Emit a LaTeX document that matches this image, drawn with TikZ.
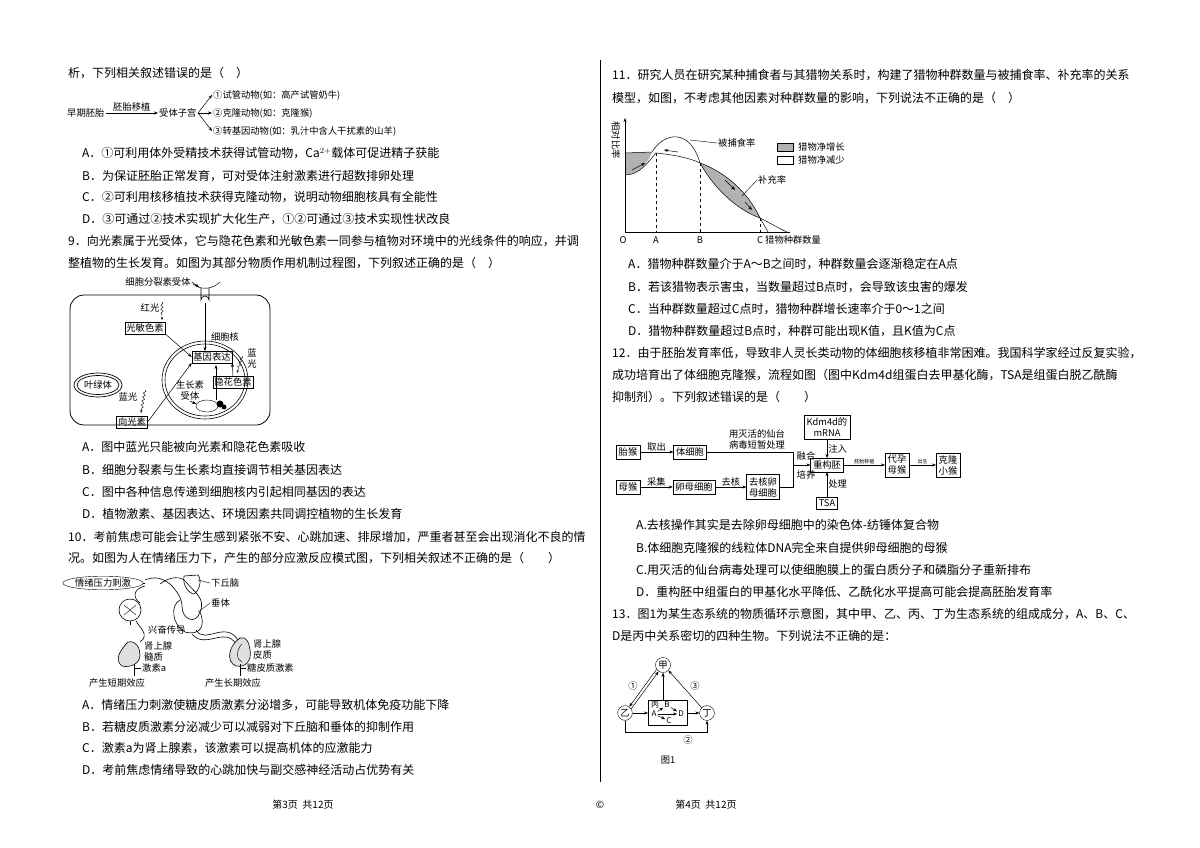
\documentclass[tikz,border=0pt]{standalone}
\usepackage{fontspec}
\setmainfont{Noto Sans CJK SC}
\usetikzlibrary{arrows.meta,decorations.pathmorphing,shapes.geometric,calc}
\begin{document}
\begin{tikzpicture}[x=1pt,y=-1pt,font=\fontsize{12}{14}\selectfont,
 tx/.style={anchor=west,inner sep=0pt},
 sm/.style={font=\fontsize{9.3}{11}\selectfont,inner sep=1pt},
 bx/.style={draw,font=\fontsize{9.3}{11}\selectfont,inner sep=1.5pt},
 fb/.style={draw,font=\fontsize{9.3}{11}\selectfont,inner sep=2.5pt,align=center},
 ar/.style={-{Stealth[length=4pt,width=3pt]},line width=0.5pt},
 wv/.style={decorate,decoration={snake,amplitude=1.2pt,segment length=4pt,post length=4pt},-{Stealth[length=3pt]}}]
\useasboundingbox[fill=white] (0,0) rectangle (1200,847);
% divider
\draw[line width=0.6pt] (600,60) -- (600,782);
% ---------------- left column
\node[tx] at (68,73) {析，下列相关叙述错误的是（\quad ）};
\node[sm,anchor=west] (e1) at (66,113) {早期胚胎};
\node[sm,anchor=west] (e2) at (158,113) {受体子宫};
\draw[ar] (e1.east) -- node[above,sm]{胚胎移植} (e2.west);
\node[sm,anchor=west] (b1) at (212,95) {①试管动物(如：高产试管奶牛)};
\node[sm,anchor=west] (b2) at (212,113) {②克隆动物(如：克隆猴)};
\node[sm,anchor=west] (b3) at (212,131) {③转基因动物(如：乳汁中含人干扰素的山羊)};
\coordinate (bs) at (198,113);
\draw[ar] (bs) -- (b1.west); \draw[ar] (bs) -- (b2.west); \draw[ar] (bs) -- (b3.west);
\node[tx] at (82,153) {A．①可利用体外受精技术获得试管动物，Ca$^{2+}$载体可促进精子获能};
\node[tx] at (82,176) {B．为保证胚胎正常发育，可对受体注射激素进行超数排卵处理};
\node[tx] at (82,197) {C．②可利用核移植技术获得克隆动物，说明动物细胞核具有全能性};
\node[tx] at (82,219) {D．③可通过②技术实现扩大化生产，①②可通过③技术实现性状改良};
\node[tx] at (68,241) {9．向光素属于光受体，它与隐花色素和光敏色素一同参与植物对环境中的光线条件的响应，并调};
\node[tx] at (68,263) {整植物的生长发育。如图为其部分物质作用机制过程图，下列叙述正确的是（\quad ）};
% cell figure
\draw[line width=0.8pt,rounded corners=14pt] (70,295) rectangle (270,425);
\draw[line width=0.6pt] (205,380) ellipse (43 and 39);
\draw[line width=0.6pt] (205,380) ellipse (40 and 36);
\draw[line width=0.6pt] (201,288) -- (201,300) arc (180:360:4) -- (209,288);
\draw[line width=0.5pt] (193,284) .. controls (200,290) and (212,290) .. (220,282);
\node[sm] (rec) at (158,282) {细胞分裂素受体};
\draw[ar] (rec.east) -- (199,287);
\node[sm] (red) at (150,308) {红光};
\node[bx] (pc) at (145,328) {光敏色素};
\draw[wv] (162,302) -- (162,320);
\node[sm] (nuc) at (225,337) {细胞核};
\node[bx] (ge) at (212,357) {基因表达};
\draw[ar] (205,303) -- (ge.north -| 205,0);
\draw[ar] (pc.south east) -- (ge.west);
\node[sm,align=center] (bl1) at (252,358) {蓝\\光};
\node[bx] (cry) at (233,382) {隐花色素};
\draw[wv] (242,356) -- (237,373);
\draw[ar] (cry.north) -- (ge.south east);
\node[sm,align=center] (aux) at (190,390) {生长素\\受体};
\draw (207,406) ellipse (11 and 6);
\fill (220,404) circle (3.5); \fill (224,407) circle (2.5);
\draw[ar] (aux.south) -- (196,404);
\draw[ar] (216,400) -- (216,365);
\draw[line width=0.7pt] (98,385) ellipse (24 and 12);
\draw[line width=0.7pt] (98,385) ellipse (21 and 9.5);
\node[sm] (chl) at (98,385) {叶绿体};
\node[sm] (bl2) at (128,397) {蓝光};
\draw[wv] (145,390) -- (141,413);
\node[bx] (pho) at (132,422) {向光素};
\draw[ar] (pho.east) -- (ge.south west);
\node[tx] at (82,447) {A．图中蓝光只能被向光素和隐花色素吸收};
\node[tx] at (82,470) {B．细胞分裂素与生长素均直接调节相关基因表达};
\node[tx] at (82,492) {C．图中各种信息传递到细胞核内引起相同基因的表达};
\node[tx] at (82,514) {D．植物激素、基因表达、环境因素共同调控植物的生长发育};
\node[tx] at (68,537) {10．考前焦虑可能会让学生感到紧张不安、心跳加速、排尿增加，严重者甚至会出现消化不良的情};
\node[tx] at (68,558) {况。如图为人在情绪压力下，产生的部分应激反应模式图，下列相关叙述不正确的是（\qquad ）};
% stress figure
\node[draw,ellipse,sm,inner sep=0.5pt] (st) at (103,583) {情绪压力刺激};
\draw[line width=0.6pt] (st.east) -- (145,583);
\draw[line width=0.6pt] (145,580) .. controls (155,576) and (162,578) .. (170,584) .. controls (176,590) and (182,598) .. (182,606) .. controls (182,620) and (196,625) .. (200,612) .. controls (206,598) and (194,592) .. (186,582) .. controls (182,576) and (170,576) .. (160,584);
\draw[line width=0.6pt] (184,576) .. controls (182,586) and (190,594) .. (194,594) .. controls (200,590) and (202,580) .. (198,575) -- cycle;
\draw[line width=0.6pt] (180,600) .. controls (170,605) and (172,625) .. (185,632) .. controls (200,636) and (206,626) .. (200,612);
\node[sm,anchor=west] (hyp) at (210,583) {下丘脑};
\draw (hyp.west) -- (198,580);
\node[sm,anchor=west] (pit) at (210,603) {垂体};
\draw (pit.west) -- (198,612);
\draw[line width=0.6pt] (130,610) circle (11);
\draw (124,605) -- (136,615) (124,615) -- (136,605);
\draw (130,621) -- (130,625);
\draw[line width=0.6pt] (145,586) .. controls (130,590) and (135,600) .. (140,603);
\draw[line width=0.6pt] (136,621) .. controls (140,628) and (150,635) .. (140,642);
\node[sm,anchor=west] (exc) at (147,630) {兴奋传导};
\draw[line width=0.6pt,fill=gray!25] (128,642) .. controls (120,650) and (114,660) .. (122,666) .. controls (130,668) and (140,664) .. (140,655) .. controls (140,648) and (136,640) .. (128,642);
\node[sm,anchor=west,align=left] (med) at (143,651) {肾上腺\\髓质};
\draw[line width=0.5pt] (134,664) -- (134,676);
\node[sm,anchor=west] (ha) at (141,668) {激素a};
\draw (ha.west) -- (134,668);
\node[sm] (sh) at (117,683) {产生短期效应};
\draw[line width=0.6pt] (196,630) .. controls (205,645) and (225,620) .. (238,640);
\draw[line width=0.6pt] (192,634) .. controls (205,650) and (225,626) .. (236,644);
\draw[line width=0.6pt,fill=gray!25] (240,638) .. controls (228,646) and (226,662) .. (236,666) .. controls (246,668) and (252,660) .. (250,650) .. controls (249,642) and (246,636) .. (240,638);
\draw (242,644) .. controls (236,650) and (236,660) .. (242,662);
\node[sm,anchor=west,align=left] (cor) at (252,649) {肾上腺\\皮质};
\draw[line width=0.5pt] (240,664) -- (240,676);
\node[sm,anchor=west] (gc) at (246,668) {糖皮质激素};
\draw (gc.west) -- (240,668);
\node[sm] (lo) at (233,683) {产生长期效应};
\node[tx] at (82,705) {A．情绪压力刺激使糖皮质激素分泌增多，可能导致机体免疫功能下降};
\node[tx] at (82,727) {B．若糖皮质激素分泌减少可以减弱对下丘脑和垂体的抑制作用};
\node[tx] at (82,748) {C．激素a为肾上腺素，该激素可以提高机体的应激能力};
\node[tx] at (82,770) {D．考前焦虑情绪导致的心跳加快与副交感神经活动占优势有关};
% ---------------- right column
\node[tx] at (612,75) {11．研究人员在研究某种捕食者与其猎物关系时，构建了猎物种群数量与被捕食率、补充率的关系};
\node[tx] at (612,98) {模型，如图，不考虑其他因素对种群数量的影响，下列说法不正确的是（\quad ）};
% graph
\fill[gray!60] (625,153) -- (652,152) .. controls (648,162) and (640,175) .. (625,175) -- cycle;
\fill[gray!60] (700,163) .. controls (725,172) and (748,192) .. (760,218) .. controls (738,210) and (715,190) .. (700,163);
\draw[line width=0.5pt] (625,153) -- (652,152) .. controls (664,132) and (690,128) .. (700,163) .. controls (715,190) and (738,210) .. (760,218) .. controls (772,224) and (780,229) .. (787,232);
\draw[line width=0.5pt] (625,175) .. controls (640,175) and (648,162) .. (656,153) .. controls (675,155) and (690,158) .. (700,163) .. controls (725,172) and (748,192) .. (760,218) -- (768,232);
\draw[-{Stealth[length=4pt]},line width=0.6pt] (625,232) -- (625,118);
\draw[line width=0.6pt] (625,232) -- (790,232);
\draw[dashed,line width=0.4pt] (656,153) -- (656,232) (700,163) -- (700,232) (760,218) -- (760,232);
\draw[ar] (632,170) -- (645,163);
\draw[ar] (678,152) -- (664,150);
\draw[ar] (725,180) -- (735,190);
\draw[ar] (745,202) -- (752,210);
\node[sm,rotate=-90] (ylab) at (616,140) {相对比率};
\node[sm] (O) at (623,240) {\itshape O};
\node[sm] (A) at (656,240) {A};
\node[sm] (B) at (700,240) {B};
\node[sm,anchor=west] (C) at (756,240) {C 猎物种群数量};
\node[sm,anchor=west] (pr) at (717,143) {被捕食率};
\draw (pr.west) -- (690,140);
\node[sm,anchor=west] (sp) at (757,180) {补充率};
\draw (sp.west) -- (742,196);
\draw[fill=gray!60] (777,143) rectangle (793,151);
\draw (777,156) rectangle (793,164);
\node[sm,anchor=west] (l1) at (797,147) {猎物净增长};
\node[sm,anchor=west] (l2) at (797,160) {猎物净减少};
\node[tx] at (628,264) {A．猎物种群数量介于A～B之间时，种群数量会逐渐稳定在A点};
\node[tx] at (628,287) {B．若该猎物表示害虫，当数量超过B点时，会导致该虫害的爆发};
\node[tx] at (628,309) {C．当种群数量超过C点时，猎物种群增长速率介于0～1之间};
\node[tx] at (628,331) {D．猎物种群数量超过B点时，种群可能出现K值，且K值为C点};
\node[tx] at (612,353) {12．由于胚胎发育率低，导致非人灵长类动物的体细胞核移植非常困难。我国科学家经过反复实验，};
\node[tx] at (612,375) {成功培育出了体细胞克隆猴，流程如图（图中Kdm4d组蛋白去甲基化酶，TSA是组蛋白脱乙酰酶};
\node[tx] at (612,397) {抑制剂）。下列叙述错误的是（\qquad ）};
% flow
\node[fb] (f1) at (628,452) {胎猴};
\node[fb] (f2) at (690,452) {体细胞};
\node[fb] (f3) at (628,487) {母猴};
\node[fb] (f4) at (694,487) {卵母细胞};
\node[fb] (f5) at (763,487) {去核卵\\母细胞};
\node[fb] (f6) at (827,465) {重构胚};
\node[fb] (f7) at (827,427) {Kdm4d的\\mRNA};
\node[fb] (f8) at (827,503) {TSA};
\node[fb] (f9) at (897,465) {代孕\\母猴};
\node[fb] (f10) at (948,465) {克隆\\小猴};
\draw[ar] (f1) -- node[above,sm]{取出} (f2);
\draw[ar] (f3) -- node[above,sm]{采集} (f4);
\draw[ar] (f4) -- node[above,sm]{去核} (f5);
\coordinate (m) at (793,465);
\draw[line width=0.5pt] (f2.east) -- (793,452) -- (m);
\draw[line width=0.5pt] (f5.east) -- (793,487) -- (m);
\draw[ar] (m) -- (f6.west);
\node[sm,align=center] at (757,439) {用灭活的仙台\\病毒短暂处理};
\node[sm] at (806,456) {融合};
\node[sm] at (806,475) {培养};
\draw[ar] (f7) -- node[right,sm]{注入} (f6);
\draw[ar] (f8) -- node[right,sm]{处理} (f6);
\draw[ar] (f6) -- node[above,font=\fontsize{5}{6}\selectfont,inner sep=1pt]{胚胎移植} (f9);
\draw[ar] (f9) -- node[above,font=\fontsize{5}{6}\selectfont,inner sep=1pt]{出生} (f10);
\node[tx] at (636,525) {A.去核操作其实是去除卵母细胞中的染色体-纺锤体复合物};
\node[tx] at (636,548) {B.体细胞克隆猴的线粒体DNA完全来自提供卵母细胞的母猴};
\node[tx] at (636,570) {C.用灭活的仙台病毒处理可以使细胞膜上的蛋白质分子和磷脂分子重新排布};
\node[tx] at (636,592) {D．重构胚中组蛋白的甲基化水平降低、乙酰化水平提高可能会提高胚胎发育率};
\node[tx] at (612,614) {13．图1为某生态系统的物质循环示意图，其中甲、乙、丙、丁为生态系统的组成成分，A、B、C、};
\node[tx] at (612,636) {D是丙中关系密切的四种生物。下列说法不正确的是：};
% fig 13
\node[draw,circle,sm,inner sep=1pt] (jia) at (663,665) {甲};
\node[draw,circle,sm,inner sep=1pt] (yi) at (625,713) {乙};
\node[draw,circle,sm,inner sep=1pt] (ding) at (707,713) {丁};
\draw[line width=0.5pt] (648,700) rectangle (687,725);
\node[sm,font=\fontsize{8}{9}\selectfont] at (655,705) {丙};
\node[sm,font=\fontsize{8}{9}\selectfont] (nA) at (654,714) {A};
\node[sm,font=\fontsize{8}{9}\selectfont] (nB) at (667,705) {B};
\node[sm,font=\fontsize{8}{9}\selectfont] (nC) at (669,721) {C};
\node[sm,font=\fontsize{8}{9}\selectfont] (nD) at (681,714) {D};
\draw[ar] (nA) -- (nB); \draw[ar] (nA) -- (nC); \draw[ar] (nA) -- (nD); \draw[ar] (nB) -- (nD);
\draw[ar] ($(yi.north east)+(1,1)$) -- ($(jia.south west)+(1,1)$);
\draw[ar] ($(jia.south west)+(-1,-1)$) -- ($(yi.north east)+(-1,-1)$);
\draw[ar] (ding.north west) -- (jia.south east);
\draw[ar] (663,700) -- (jia.south);
\draw[ar] (yi.east) -- (648,713);
\draw[ar] (687,713) -- (ding.west);
\draw[ar] (yi.south) -- (625,732) -- (707,732) -- (ding.south);
\node[sm] at (633,686) {①};
\node[sm] at (695,686) {③};
\node[sm] at (688,740) {②};
\node[sm] at (668,760) {图1};
% footer
\node[sm,font=\fontsize{10}{12}\selectfont] at (303,805) {第3页\ \ 共12页};
\node[sm,font=\fontsize{10}{12}\selectfont] at (600,805) {©};
\node[sm,font=\fontsize{10}{12}\selectfont] at (706,805) {第4页\ \ 共12页};
\end{tikzpicture}
\end{document}
